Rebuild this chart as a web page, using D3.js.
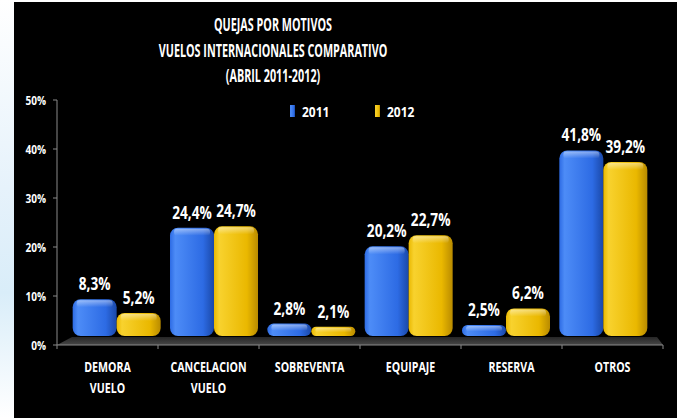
<!DOCTYPE html>
<html>
<head>
<meta charset="utf-8">
<script src="https://cdn.jsdelivr.net/npm/d3@7"></script>
<style>
  body { margin: 0; background: #fff; }
  svg text { font-family: "Open Sans", sans-serif; font-weight: bold; fill: #fff; }
</style>
</head>
<body>
<svg id="chart"></svg>
<script>
// data
const categories = ["DEMORA\nVUELO", "CANCELACION\nVUELO", "SOBREVENTA", "EQUIPAJE", "RESERVA", "OTROS"];
const years = ["2011", "2012"];
const values2011 = [8.3, 24.4, 2.8, 20.2, 2.5, 41.8];
const values2012 = [5.2, 24.7, 2.1, 22.7, 6.2, 39.2];
const yTicks = [0, 10, 20, 30, 40, 50];
const titleLines = ["QUEJAS POR MOTIVOS", "VUELOS INTERNACIONALES COMPARATIVO", "(ABRIL 2011-2012)"];

let width = 677, height = 418;
let colors = { "2011": ["#4d8cf7", "#2d6be4", "#1a48a8"], "2012": ["#f8d22e", "#eab800", "#b98b00"] };

let svg = d3.select("#chart").attr("width", width).attr("height", height);

// the picture is narrow-lettered (Calibri squeezed), so squeeze text horizontally
function squeeze(sel, k) {
    sel.each(function () {
        let t = d3.select(this);
        let x = +t.attr("x"), y = +t.attr("y");
        t.attr("x", 0).attr("y", 0)
            .attr("transform", "translate(" + x + "," + y + ") scale(" + k + ",1)");
    });
}

// background: light strip on the left, black panel
let defs = svg.append("defs");
let side = defs.append("linearGradient").attr("id", "side").attr("x1", 0).attr("y1", 0).attr("x2", 0).attr("y2", 1);
side.append("stop").attr("offset", "0%").attr("stop-color", "#ffffff");
side.append("stop").attr("offset", "45%").attr("stop-color", "#e6f2fb");
side.append("stop").attr("offset", "70%").attr("stop-color", "#d9edf9");
side.append("stop").attr("offset", "100%").attr("stop-color", "#ffffff");
svg.append("rect").attr("width", 14).attr("height", height).attr("fill", "url(#side)");
svg.append("rect").attr("x", 14).attr("y", 2).attr("width", width - 14).attr("height", height - 2).attr("fill", "#000");

// gradients for the bars
years.forEach(yr => {
    let g = defs.append("linearGradient").attr("id", "g" + yr).attr("x1", 0).attr("x2", 1).attr("y1", 0).attr("y2", 0);
    g.append("stop").attr("offset", "0%").attr("stop-color", colors[yr][1]);
    g.append("stop").attr("offset", "12%").attr("stop-color", colors[yr][0]);
    g.append("stop").attr("offset", "75%").attr("stop-color", colors[yr][1]);
    g.append("stop").attr("offset", "100%").attr("stop-color", colors[yr][2]);
});
let hl = defs.append("linearGradient").attr("id", "hl").attr("x1", 0).attr("x2", 0).attr("y1", 0).attr("y2", 1);
hl.append("stop").attr("offset", "0%").attr("stop-color", "#fff").attr("stop-opacity", 0.45);
hl.append("stop").attr("offset", "100%").attr("stop-color", "#fff").attr("stop-opacity", 0);
let fl = defs.append("linearGradient").attr("id", "floor").attr("x1", 0).attr("x2", 0).attr("y1", 0).attr("y2", 1);
fl.append("stop").attr("offset", "0%").attr("stop-color", "#262626");
fl.append("stop").attr("offset", "100%").attr("stop-color", "#474747");

// scales: the axis sits on the front plane, bars stand on the back of the floor
let yAxis = d3.scaleLinear().domain([0, 50]).range([345, 100]);
let yBar = d3.scaleLinear().domain([0, 50]).range([336, 114]);
let xFront = d3.scaleBand().domain(categories).range([57, 663]);
let xBack = d3.scaleBand().domain(categories).range([68, 652]);
let xSeries = d3.scaleBand().domain(years).range([0, 88]);
let fmt = v => d3.format(".1f")(v).replace(".", ",") + "%";

// title
svg.append("g").selectAll("text")
    .data(titleLines)
    .enter().append("text")
    .attr("x", 273)
    .attr("y", (d, i) => 31 + i * 25.5)
    .attr("text-anchor", "middle")
    .style("font-size", "18px")
    .text(d => d)
    .call(squeeze, 0.6);

// legend
let legend = svg.append("g").selectAll("g")
    .data(years)
    .enter().append("g")
    .attr("transform", (d, i) => "translate(" + (290 + i * 85) + ",105)");
legend.append("rect").attr("width", 5).attr("height", 12).attr("fill", d => "url(#g" + d + ")");
legend.append("text").attr("x", 12).attr("y", 12).style("font-size", "15px").text(d => d).call(squeeze, 0.8);

// floor
svg.append("path")
    .attr("d", "M" + xFront.range()[0] + ",345L" + xFront.range()[1] + ",345L" + (xBack.range()[1] + 5) + ",337L" + (xBack.range()[0] + 4) + ",337Z")
    .attr("fill", "url(#floor)");

// y axis
let ya = svg.append("g").attr("class", "axis");
ya.append("line").attr("x1", 57).attr("x2", 57).attr("y1", yAxis(50)).attr("y2", yAxis(0)).attr("stroke", "#8a8a8a");
ya.selectAll(".tick")
    .data(yTicks)
    .enter().append("line")
    .attr("x1", 53).attr("x2", 57)
    .attr("y1", d => yAxis(d)).attr("y2", d => yAxis(d))
    .attr("stroke", "#8a8a8a");
ya.selectAll("text")
    .data(yTicks)
    .enter().append("text")
    .attr("x", 46)
    .attr("y", d => yAxis(d) + 5)
    .attr("text-anchor", "end")
    .style("font-size", "12px")
    .text(d => d + "%")
    .call(squeeze, 0.84);

// x axis
let xa = svg.append("g");
xa.append("line").attr("x1", 57).attr("x2", 663).attr("y1", 345).attr("y2", 345).attr("stroke", "#8a8a8a");
xa.selectAll("line.t")
    .data(categories.map(c => xFront(c)).concat([xFront.range()[1]]))
    .enter().append("line")
    .attr("class", "t")
    .attr("x1", d => d).attr("x2", d => d)
    .attr("y1", 345).attr("y2", 349)
    .attr("stroke", "#8a8a8a");
let xl = xa.selectAll("text.cat")
    .data(categories)
    .enter().append("text")
    .attr("class", "cat")
    .attr("x", d => xFront(d) + xFront.bandwidth() / 2)
    .attr("y", 372)
    .attr("text-anchor", "middle")
    .style("font-size", "14px")
    .call(squeeze, 0.76);
xl.selectAll("tspan")
    .data(d => d.split("\n"))
    .enter().append("tspan")
    .attr("x", 0)
    .attr("y", (d, i) => i * 21)
    .text(d => d);

// bars
let rows = [];
categories.forEach((c, i) => {
    rows.push({ cat: c, year: "2011", value: values2011[i] });
    rows.push({ cat: c, year: "2012", value: values2012[i] });
});
let off = (xBack.bandwidth() - xSeries.range()[1]) / 2;
let bar = svg.append("g").selectAll("g")
    .data(rows)
    .enter().append("g")
    .attr("transform", d => "translate(" + (xBack(d.cat) + off + xSeries(d.year)) + ",0)");

bar.append("rect")
    .attr("y", d => yBar(d.value))
    .attr("width", xSeries.bandwidth())
    .attr("height", d => yBar(0) - yBar(d.value))
    .attr("rx", d => Math.min(8, (yBar(0) - yBar(d.value)) / 2))
    .attr("fill", d => "url(#g" + d.year + ")");

bar.append("rect")
    .attr("x", 4)
    .attr("y", d => yBar(d.value) + 1)
    .attr("width", xSeries.bandwidth() - 8)
    .attr("height", d => Math.min(7, (yBar(0) - yBar(d.value)) / 2))
    .attr("rx", 3)
    .attr("fill", "url(#hl)");

bar.append("text")
    .attr("x", xSeries.bandwidth() / 2)
    .attr("y", d => yBar(d.value) - 9)
    .attr("text-anchor", "middle")
    .style("font-size", "18px")
    .text(d => fmt(d.value))
    .call(squeeze, 0.76);
</script>
</body>
</html>
